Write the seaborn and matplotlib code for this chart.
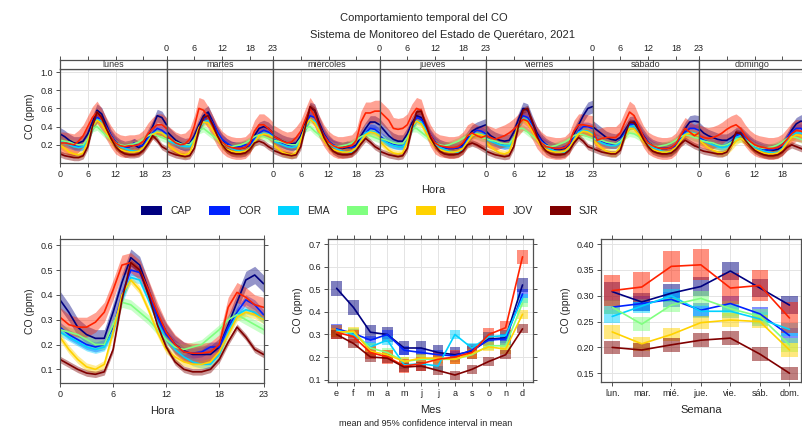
import numpy as np
import pandas as pd
import matplotlib
matplotlib.use("Agg")
import matplotlib.pyplot as plt
import seaborn as sns
from matplotlib.patches import Patch

# ---------------- data ----------------
stations = ["CAP", "COR", "EMA", "EPG", "FEO", "JOV", "SJR"]
colors = ["#000080", "#0022FF", "#00D2FF", "#80FF80", "#FFD200", "#FF2200", "#800000"]
days = ["lunes", "martes", "miércoles", "jueves", "viernes", "sábado", "domingo"]
hours = list(range(24))
month_labels = ["e", "f", "m", "a", "m", "j", "j", "a", "s", "o", "n", "d"]
week_labels = ["lun.", "mar.", "mié.", "jue.", "vie.", "sáb.", "dom."]

# hour x weekday means (one list of 24 per day, lunes..domingo)
cap_dayhour = [
    [0.32,0.29,0.25,0.22,0.22,0.24,0.32,0.45,0.58,0.54,0.42,0.30,0.23,0.19,0.17,0.18,0.20,0.17,0.20,0.30,0.40,0.52,0.50,0.42],
    [0.35,0.30,0.25,0.22,0.20,0.21,0.30,0.42,0.52,0.56,0.45,0.33,0.25,0.20,0.17,0.16,0.16,0.17,0.20,0.30,0.38,0.40,0.38,0.33],
    [0.30,0.27,0.24,0.22,0.21,0.22,0.30,0.45,0.60,0.58,0.44,0.32,0.24,0.19,0.17,0.16,0.17,0.17,0.20,0.30,0.38,0.45,0.45,0.42],
    [0.42,0.36,0.30,0.26,0.24,0.24,0.32,0.44,0.52,0.50,0.40,0.30,0.23,0.19,0.17,0.16,0.16,0.17,0.20,0.28,0.35,0.38,0.40,0.42],
    [0.35,0.30,0.27,0.25,0.24,0.25,0.34,0.48,0.60,0.58,0.45,0.33,0.25,0.20,0.17,0.15,0.15,0.16,0.21,0.32,0.42,0.52,0.60,0.62],
    [0.40,0.36,0.32,0.28,0.26,0.25,0.28,0.36,0.44,0.45,0.38,0.30,0.23,0.19,0.17,0.16,0.16,0.17,0.20,0.28,0.38,0.45,0.46,0.45],
    [0.38,0.33,0.30,0.28,0.26,0.25,0.25,0.28,0.32,0.33,0.28,0.23,0.19,0.17,0.15,0.14,0.14,0.15,0.18,0.26,0.36,0.43,0.46,0.45],
]
cor_dayhour = [
    [0.25,0.23,0.21,0.19,0.18,0.19,0.26,0.40,0.50,0.48,0.40,0.30,0.23,0.19,0.17,0.18,0.22,0.19,0.19,0.27,0.33,0.38,0.36,0.32],
    [0.28,0.25,0.22,0.20,0.19,0.20,0.27,0.38,0.48,0.52,0.44,0.34,0.26,0.22,0.19,0.18,0.18,0.20,0.19,0.27,0.33,0.36,0.34,0.30],
    [0.26,0.24,0.22,0.20,0.19,0.20,0.27,0.40,0.52,0.50,0.41,0.31,0.24,0.20,0.18,0.17,0.19,0.17,0.18,0.26,0.33,0.38,0.37,0.33],
    [0.30,0.26,0.23,0.21,0.20,0.20,0.27,0.40,0.50,0.48,0.40,0.30,0.23,0.19,0.17,0.16,0.16,0.17,0.18,0.26,0.32,0.36,0.35,0.32],
    [0.28,0.25,0.23,0.21,0.20,0.21,0.28,0.42,0.52,0.50,0.42,0.31,0.24,0.20,0.17,0.16,0.16,0.18,0.20,0.28,0.35,0.40,0.40,0.38],
    [0.30,0.27,0.24,0.22,0.21,0.21,0.25,0.33,0.42,0.43,0.37,0.29,0.23,0.19,0.17,0.16,0.16,0.17,0.19,0.27,0.34,0.38,0.38,0.36],
    [0.28,0.25,0.23,0.21,0.20,0.19,0.20,0.24,0.30,0.32,0.28,0.23,0.19,0.17,0.15,0.14,0.15,0.17,0.20,0.28,0.34,0.38,0.38,0.34],
]
ema_dayhour = [
    [0.24,0.22,0.20,0.18,0.17,0.18,0.24,0.38,0.48,0.46,0.38,0.29,0.22,0.18,0.16,0.14,0.13,0.13,0.16,0.25,0.32,0.35,0.33,0.30],
    [0.26,0.23,0.21,0.19,0.18,0.18,0.24,0.36,0.45,0.47,0.40,0.31,0.23,0.19,0.16,0.14,0.13,0.13,0.16,0.24,0.31,0.33,0.32,0.29],
    [0.24,0.22,0.20,0.18,0.17,0.18,0.25,0.38,0.48,0.46,0.38,0.29,0.22,0.18,0.15,0.13,0.12,0.12,0.16,0.25,0.33,0.35,0.34,0.31],
    [0.27,0.24,0.21,0.19,0.18,0.18,0.24,0.37,0.46,0.45,0.37,0.28,0.21,0.17,0.15,0.13,0.12,0.12,0.15,0.24,0.31,0.33,0.32,0.30],
    [0.26,0.24,0.22,0.20,0.19,0.19,0.26,0.40,0.49,0.47,0.39,0.29,0.22,0.18,0.15,0.13,0.12,0.12,0.16,0.26,0.34,0.36,0.35,0.32],
    [0.28,0.25,0.22,0.20,0.19,0.19,0.22,0.31,0.40,0.41,0.35,0.27,0.21,0.17,0.15,0.13,0.12,0.12,0.16,0.25,0.32,0.34,0.33,0.31],
    [0.26,0.24,0.22,0.20,0.18,0.17,0.18,0.22,0.28,0.30,0.26,0.21,0.17,0.15,0.13,0.12,0.11,0.12,0.16,0.25,0.31,0.33,0.33,0.30],
]
epg_dayhour = [
    [0.25,0.24,0.23,0.21,0.20,0.20,0.27,0.38,0.40,0.35,0.30,0.26,0.22,0.20,0.19,0.20,0.21,0.23,0.26,0.30,0.32,0.30,0.28,0.26],
    [0.26,0.25,0.23,0.21,0.20,0.20,0.26,0.36,0.38,0.34,0.30,0.26,0.22,0.19,0.18,0.19,0.20,0.22,0.25,0.29,0.31,0.29,0.27,0.25],
    [0.25,0.24,0.23,0.21,0.20,0.20,0.27,0.38,0.40,0.35,0.31,0.26,0.22,0.19,0.18,0.19,0.20,0.22,0.25,0.29,0.31,0.30,0.28,0.26],
    [0.27,0.26,0.24,0.22,0.21,0.21,0.28,0.38,0.38,0.34,0.30,0.26,0.22,0.20,0.19,0.20,0.22,0.24,0.27,0.30,0.32,0.30,0.28,0.27],
    [0.27,0.25,0.24,0.22,0.21,0.21,0.28,0.38,0.38,0.34,0.30,0.26,0.22,0.19,0.18,0.19,0.21,0.23,0.26,0.30,0.32,0.31,0.29,0.27],
    [0.27,0.26,0.25,0.23,0.22,0.21,0.24,0.30,0.33,0.32,0.29,0.25,0.22,0.19,0.18,0.19,0.20,0.22,0.25,0.29,0.31,0.30,0.28,0.27],
    [0.25,0.24,0.23,0.22,0.20,0.19,0.20,0.23,0.26,0.27,0.25,0.22,0.19,0.17,0.16,0.17,0.18,0.20,0.23,0.27,0.29,0.28,0.26,0.24],
]
feo_dayhour = [
    [0.20,0.16,0.12,0.10,0.09,0.11,0.24,0.40,0.47,0.43,0.34,0.25,0.18,0.15,0.13,0.12,0.12,0.13,0.17,0.24,0.31,0.34,0.33,0.29],
    [0.22,0.17,0.13,0.10,0.09,0.11,0.24,0.39,0.45,0.44,0.36,0.27,0.19,0.15,0.13,0.12,0.12,0.13,0.16,0.23,0.30,0.32,0.31,0.28],
    [0.21,0.16,0.12,0.10,0.09,0.11,0.25,0.41,0.48,0.44,0.35,0.25,0.18,0.15,0.13,0.12,0.12,0.13,0.17,0.24,0.31,0.34,0.33,0.30],
    [0.24,0.19,0.14,0.11,0.10,0.11,0.24,0.40,0.46,0.43,0.34,0.25,0.18,0.15,0.13,0.12,0.12,0.13,0.16,0.23,0.30,0.32,0.31,0.29],
    [0.23,0.18,0.14,0.11,0.10,0.12,0.26,0.42,0.48,0.44,0.35,0.26,0.18,0.15,0.13,0.12,0.12,0.13,0.17,0.25,0.32,0.35,0.34,0.31],
    [0.26,0.21,0.16,0.13,0.11,0.11,0.18,0.30,0.38,0.37,0.31,0.24,0.18,0.15,0.13,0.12,0.12,0.13,0.17,0.24,0.31,0.33,0.32,0.30],
    [0.25,0.21,0.17,0.14,0.12,0.11,0.13,0.18,0.24,0.27,0.24,0.19,0.15,0.13,0.11,0.10,0.10,0.11,0.15,0.22,0.28,0.31,0.30,0.27],
]
jov_dayhour = [
    [0.22,0.22,0.21,0.20,0.24,0.30,0.40,0.50,0.56,0.48,0.38,0.29,0.22,0.19,0.18,0.19,0.19,0.20,0.24,0.32,0.38,0.42,0.42,0.38],
    [0.30,0.26,0.22,0.20,0.21,0.26,0.40,0.60,0.58,0.50,0.40,0.30,0.23,0.19,0.17,0.16,0.16,0.17,0.22,0.35,0.42,0.42,0.38,0.33],
    [0.30,0.27,0.24,0.22,0.23,0.28,0.35,0.48,0.60,0.52,0.40,0.30,0.23,0.19,0.17,0.17,0.18,0.19,0.25,0.45,0.55,0.55,0.57,0.57],
    [0.57,0.52,0.47,0.38,0.37,0.38,0.42,0.53,0.60,0.58,0.42,0.30,0.22,0.19,0.18,0.17,0.17,0.18,0.22,0.30,0.33,0.30,0.28,0.30],
    [0.30,0.28,0.26,0.28,0.30,0.33,0.37,0.42,0.48,0.46,0.38,0.28,0.22,0.18,0.17,0.16,0.16,0.17,0.22,0.35,0.42,0.42,0.41,0.40],
    [0.37,0.25,0.27,0.28,0.28,0.28,0.33,0.45,0.56,0.52,0.40,0.29,0.22,0.19,0.17,0.16,0.16,0.17,0.21,0.30,0.38,0.34,0.30,0.33],
    [0.30,0.28,0.27,0.28,0.30,0.33,0.37,0.40,0.42,0.38,0.30,0.24,0.20,0.18,0.17,0.16,0.16,0.17,0.20,0.26,0.32,0.36,0.35,0.33],
]
sjr_dayhour = [
    [0.10,0.08,0.07,0.06,0.06,0.08,0.18,0.40,0.56,0.50,0.38,0.27,0.18,0.13,0.10,0.09,0.09,0.10,0.14,0.21,0.30,0.25,0.18,0.15],
    [0.13,0.11,0.09,0.08,0.07,0.08,0.16,0.36,0.50,0.52,0.42,0.30,0.20,0.14,0.11,0.10,0.10,0.11,0.15,0.22,0.24,0.22,0.18,0.15],
    [0.14,0.12,0.10,0.09,0.08,0.09,0.18,0.40,0.62,0.58,0.42,0.28,0.19,0.13,0.10,0.09,0.09,0.10,0.14,0.21,0.27,0.23,0.18,0.15],
    [0.13,0.11,0.09,0.08,0.07,0.08,0.16,0.38,0.56,0.57,0.42,0.28,0.19,0.13,0.10,0.09,0.09,0.10,0.13,0.20,0.22,0.20,0.17,0.14],
    [0.13,0.11,0.09,0.08,0.07,0.08,0.18,0.40,0.58,0.60,0.45,0.30,0.19,0.13,0.10,0.09,0.09,0.10,0.14,0.22,0.28,0.24,0.18,0.16],
    [0.16,0.14,0.12,0.11,0.10,0.10,0.14,0.30,0.45,0.44,0.36,0.26,0.18,0.13,0.11,0.10,0.10,0.11,0.15,0.21,0.25,0.22,0.19,0.17],
    [0.15,0.13,0.12,0.11,0.10,0.10,0.12,0.20,0.34,0.32,0.25,0.19,0.14,0.11,0.09,0.08,0.08,0.09,0.12,0.17,0.20,0.18,0.16,0.14],
]
ci_dayhour = [0.07, 0.05, 0.035, 0.04, 0.04, 0.12, 0.035]

# overall hourly means
cap_hour = [0.38,0.33,0.27,0.24,0.225,0.225,0.33,0.45,0.55,0.52,0.42,0.32,0.25,0.20,0.175,0.16,0.16,0.16,0.19,0.28,0.37,0.46,0.48,0.445]
cor_hour = [0.27,0.24,0.22,0.20,0.19,0.20,0.27,0.40,0.50,0.49,0.41,0.31,0.24,0.20,0.17,0.165,0.17,0.19,0.19,0.27,0.33,0.38,0.36,0.32]
ema_hour = [0.25,0.23,0.21,0.19,0.18,0.19,0.25,0.38,0.47,0.46,0.38,0.29,0.22,0.18,0.15,0.13,0.12,0.12,0.16,0.25,0.32,0.34,0.33,0.30]
epg_hour = [0.26,0.25,0.24,0.22,0.20,0.20,0.28,0.37,0.36,0.33,0.30,0.26,0.22,0.19,0.18,0.19,0.20,0.23,0.26,0.30,0.32,0.30,0.28,0.26]
feo_hour = [0.23,0.18,0.14,0.11,0.10,0.12,0.25,0.40,0.46,0.42,0.34,0.25,0.18,0.15,0.13,0.12,0.12,0.13,0.17,0.24,0.31,0.33,0.32,0.30]
jov_hour = [0.31,0.28,0.27,0.27,0.29,0.33,0.42,0.52,0.53,0.50,0.42,0.33,0.25,0.20,0.17,0.165,0.165,0.17,0.20,0.35,0.41,0.39,0.36,0.35]
sjr_hour = [0.14,0.12,0.10,0.085,0.08,0.09,0.18,0.38,0.53,0.50,0.40,0.28,0.19,0.13,0.10,0.09,0.09,0.10,0.14,0.21,0.27,0.23,0.18,0.16]
ci_hour = [0.035, 0.02, 0.016, 0.02, 0.016, 0.04, 0.013]

# monthly means
cap_month = [0.505,0.42,0.31,0.30,0.24,0.24,0.22,0.21,0.225,0.28,0.285,0.52]
cor_month = [0.325,0.305,0.275,0.30,0.23,0.22,0.21,0.205,0.23,0.275,0.28,0.48]
ema_month = [0.32,0.30,0.245,0.275,0.165,0.17,0.16,0.30,0.24,0.29,0.295,0.46]
epg_month = [0.31,0.31,0.24,0.22,0.18,0.19,0.19,0.19,0.21,0.25,0.25,0.44]
feo_month = [0.31,0.315,0.225,0.21,0.18,0.195,0.195,0.19,0.215,0.245,0.235,0.39]
jov_month = [0.31,0.29,0.22,0.20,0.16,0.17,0.19,0.20,0.22,0.30,0.33,0.645]
sjr_month = [0.30,0.26,0.20,0.195,0.155,0.16,0.14,0.12,0.145,0.18,0.21,0.325]
ci_month = [0.033, 0.02, 0.02, 0.02, 0.02, 0.03, 0.02]

# weekday means
cap_week = [0.308,0.288,0.305,0.318,0.348,0.315,0.282]
cor_week = [0.278,0.285,0.293,0.272,0.285,0.265,0.223]
ema_week = [0.260,0.280,0.300,0.270,0.270,0.255,0.235]
epg_week = [0.278,0.245,0.282,0.295,0.275,0.260,0.205]
feo_week = [0.230,0.207,0.225,0.248,0.253,0.250,0.195]
jov_week = [0.310,0.317,0.357,0.360,0.315,0.320,0.257]
sjr_week = [0.200,0.195,0.205,0.214,0.218,0.187,0.150]
ci_week = [0.018, 0.014, 0.013, 0.014, 0.013, 0.03, 0.013]

dayhour = [cap_dayhour, cor_dayhour, ema_dayhour, epg_dayhour, feo_dayhour, jov_dayhour, sjr_dayhour]
hourly = [cap_hour, cor_hour, ema_hour, epg_hour, feo_hour, jov_hour, sjr_hour]
monthly = [cap_month, cor_month, ema_month, epg_month, feo_month, jov_month, sjr_month]
weekly = [cap_week, cor_week, ema_week, epg_week, feo_week, jov_week, sjr_week]

# ---------------- tables ----------------
rows = []
for s, st in enumerate(stations):
    for d, day in enumerate(days):
        for h in hours:
            rows.append((st, day, h, dayhour[s][d][h], ci_dayhour[s]))
df_top = pd.DataFrame(rows, columns=["station", "day", "hour", "value", "ci"])

df_hour = pd.DataFrame([(st, h, hourly[s][h], ci_hour[s]) for s, st in enumerate(stations) for h in hours],
                       columns=["station", "hour", "value", "ci"])
df_month = pd.DataFrame([(st, m, monthly[s][m], ci_month[s]) for s, st in enumerate(stations) for m in range(12)],
                        columns=["station", "month", "value", "ci"])
df_week = pd.DataFrame([(st, w, weekly[s][w], ci_week[s]) for s, st in enumerate(stations) for w in range(7)],
                       columns=["station", "wday", "value", "ci"])

pal = dict(zip(stations, colors))

# ---------------- style ----------------
sns.set_style("white")
plt.rcParams["font.family"] = ["Liberation Sans", "DejaVu Sans"]
SPINE = "#505050"
GRID = "#E4E4E4"
TICKFS = 6.5

W, H = 802, 428
fig = plt.figure(figsize=(W / 100, H / 100), dpi=100)


def rect(x0, y0, x1, y1):
    return [x0 / W, 1 - y1 / H, (x1 - x0) / W, (y1 - y0) / H]


def style_axes(ax):
    for sp in ax.spines.values():
        sp.set_color(SPINE)
        sp.set_linewidth(0.9)
    ax.tick_params(direction="out", length=3, width=0.7, color=SPINE,
                   labelsize=TICKFS, labelcolor="#222222", pad=2,
                   top=True, right=True, bottom=True, left=True)
    ax.grid(True, color=GRID, lw=0.7)
    ax.set_axisbelow(True)


def bands(ax, df, xcol):
    for st in stations:
        sub = df[df.station == st]
        ax.fill_between(sub[xcol], sub.value - sub.ci, sub.value + sub.ci,
                        color=pal[st], alpha=0.42, lw=0)


# ---------------- top: hour by weekday ----------------
x0, pw = 60.0, 106.5
top_y0, top_y1, strip_y0 = 69, 163, 60
for d, day in enumerate(days):
    xa = x0 + d * pw
    ax = fig.add_axes(rect(xa, top_y0, xa + pw, top_y1))
    sub = df_top[df_top.day == day]
    bands(ax, sub, "hour")
    sns.lineplot(data=sub, x="hour", y="value", hue="station", hue_order=stations,
                 palette=pal, legend=False, ax=ax, lw=1.2)
    ax.set_xlim(0, 23)
    ax.set_ylim(0, 1.033)
    ax.set_xticks([0, 6, 12, 18, 23])
    if d == 6:
        ax.set_xticklabels(["0", "6", "12", "18", ""])
    ax.set_yticks([0.2, 0.4, 0.6, 0.8, 1.0])
    ax.set_yticklabels(["0.2", "0.4", "0.6", "0.8", "1.0"])
    style_axes(ax)
    ax.tick_params(top=False, right=False, left=(d == 0), labelleft=(d == 0),
                   labelbottom=(d % 2 == 0))
    ax.set_xlabel("")
    ax.set_ylabel("CO (ppm)" if d == 0 else "", fontsize=7.5, labelpad=4)
    # strip
    axs = fig.add_axes(rect(xa, strip_y0, xa + pw, top_y0))
    axs.set_xlim(0, 23)
    axs.set_ylim(0, 1)
    axs.set_yticks([])
    axs.xaxis.tick_top()
    axs.set_xticks([0, 6, 12, 18, 23])
    for sp in axs.spines.values():
        sp.set_color(SPINE)
        sp.set_linewidth(0.9)
    axs.tick_params(direction="out", length=3, width=0.7, color=SPINE,
                    labelsize=TICKFS, labelcolor="#222222", pad=2,
                    labeltop=(d % 2 == 1), bottom=False, labelbottom=False)
    axs.text(11.5, 0.45, day, ha="center", va="center", fontsize=6.5, color="#333333")

fig.text(433 / W, 1 - 190 / H, "Hora", ha="center", va="center", fontsize=8)

# ---------------- legend ----------------
handles = [Patch(facecolor=c, edgecolor="none") for c in colors]
fig.legend(handles, stations, loc="center", bbox_to_anchor=(370 / W, 1 - 211 / H),
           ncol=7, frameon=False, fontsize=7.5, handlelength=2.0, handleheight=0.85,
           handletextpad=0.8, columnspacing=1.65)

# ---------------- bottom-left: hour ----------------
axh = fig.add_axes(rect(60, 239, 264, 383))
bands(axh, df_hour, "hour")
sns.lineplot(data=df_hour, x="hour", y="value", hue="station", hue_order=stations,
             palette=pal, legend=False, ax=axh, lw=1.2)
axh.set_xlim(0, 23.05)
axh.set_ylim(0.045, 0.625)
axh.set_xticks([0, 6, 12, 18, 23])
axh.set_yticks([0.1, 0.2, 0.3, 0.4, 0.5, 0.6])
axh.set_yticklabels(["0.1", "0.2", "0.3", "0.4", "0.5", "0.6"])
style_axes(axh)
axh.tick_params(labeltop=False, labelright=False)
axh.set_xlabel("Hora", fontsize=8, labelpad=5)
axh.set_ylabel("CO (ppm)", fontsize=7.5, labelpad=4)

# ---------------- bottom-middle: month ----------------
axm = fig.add_axes(rect(328, 239, 533, 382))
for st in stations:
    sub = df_month[df_month.station == st]
    axm.bar(sub.month, 2 * sub.ci, bottom=sub.value - sub.ci, width=0.62,
            color=pal[st], alpha=0.5, lw=0)
sns.lineplot(data=df_month, x="month", y="value", hue="station", hue_order=stations,
             palette=pal, legend=False, ax=axm, lw=1.2)
axm.set_xlim(-0.51, 11.62)
axm.set_ylim(0.089, 0.724)
axm.set_xticks(range(12))
axm.set_xticklabels(month_labels)
axm.set_yticks([0.1, 0.2, 0.3, 0.4, 0.5, 0.6, 0.7])
axm.set_yticklabels(["0.1", "0.2", "0.3", "0.4", "0.5", "0.6", "0.7"])
style_axes(axm)
axm.tick_params(labeltop=False, labelright=False)
axm.set_xlabel("Mes", fontsize=8, labelpad=5)
axm.set_ylabel("CO (ppm)", fontsize=7.5, labelpad=4)
fig.text(426 / W, 1 - 424 / H, "mean and 95% confidence interval in mean",
         ha="center", va="center", fontsize=6.5, color="#222222")

# ---------------- bottom-right: weekday ----------------
axw = fig.add_axes(rect(600.7, 239, 801, 382))
for st in stations:
    sub = df_week[df_week.station == st]
    axw.bar(sub.wday, 2 * sub.ci, bottom=sub.value - sub.ci, width=0.56,
            color=pal[st], alpha=0.5, lw=0)
sns.lineplot(data=df_week, x="wday", y="value", hue="station", hue_order=stations,
             palette=pal, legend=False, ax=axw, lw=1.2)
axw.set_xlim(-0.39, 6.39)
axw.set_ylim(0.133, 0.41)
axw.set_xticks(range(7))
axw.set_xticklabels(week_labels)
axw.set_yticks([0.15, 0.20, 0.25, 0.30, 0.35, 0.40])
axw.set_yticklabels(["0.15", "0.20", "0.25", "0.30", "0.35", "0.40"])
style_axes(axw)
axw.tick_params(labeltop=False, labelright=False)
axw.set_xlabel("Semana", fontsize=8, labelpad=5)
axw.set_ylabel("CO (ppm)", fontsize=7.5, labelpad=4)

# ---------------- titles ----------------
fig.text(424 / W, 1 - 18 / H, "Comportamiento temporal del CO", ha="center", va="center", fontsize=8)
fig.text(442 / W, 1 - 35 / H, "Sistema de Monitoreo del Estado de Querétaro, 2021",
         ha="center", va="center", fontsize=8)

fig.savefig("out.png", dpi=100)
